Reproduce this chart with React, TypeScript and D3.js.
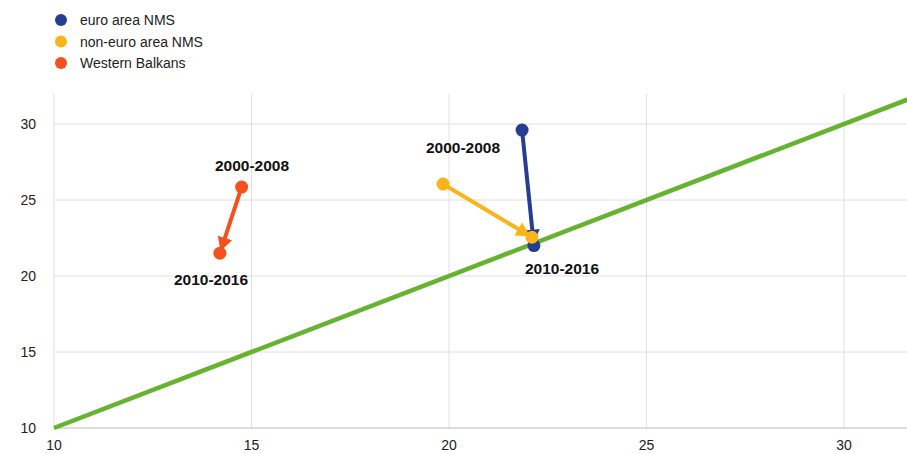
import React from 'react';
import * as d3 from 'd3';

const seriesNames = ['euro area NMS', 'non-euro area NMS', 'Western Balkans'];
const seriesColors = ['#263e91', '#fbb41a', '#f4511e'];
// [x, y] for 2000-2008 (start) and 2010-2016 (end)
const startPoints: [number, number][] = [[21.85, 29.6], [19.85, 26.05], [14.75, 25.85]];
const endPoints: [number, number][] = [[22.15, 22.0], [22.1, 22.55], [14.2, 21.5]];
const xTicks = [10, 15, 20, 25, 30];
const yTicks = [10, 15, 20, 25, 30];
const diagonal: [number, number][] = [[10, 10], [32, 32]];

const width = 907;
const height = 454;
const font = 'Arial, "Liberation Sans", sans-serif';

const App: React.FC = () => {
  const x = d3.scaleLinear().domain([10, 32]).range([54, 923]);
  const y = d3.scaleLinear().domain([10, 32]).range([428, 93.6]);
  const line = d3.line<[number, number]>().x(d => x(d[0])).y(d => y(d[1]));

  const arrow = (i: number) => {
    const [x0, y0] = [x(startPoints[i][0]), y(startPoints[i][1])];
    const [x1, y1] = [x(endPoints[i][0]), y(endPoints[i][1])];
    const len = Math.hypot(x1 - x0, y1 - y0);
    const ux = (x1 - x0) / len;
    const uy = (y1 - y0) / len;
    const tipX = x1 - ux * 2;
    const tipY = y1 - uy * 2;
    const hl = 14;
    const hw = 7.5;
    const bx = tipX - ux * hl;
    const by = tipY - uy * hl;
    const tri = `M${tipX},${tipY}L${bx - uy * hw},${by + ux * hw}L${bx + uy * hw},${by - ux * hw}Z`;
    return (
      <g key={i}>
        <line x1={x0} y1={y0} x2={bx + ux * 2} y2={by + uy * 2} stroke={seriesColors[i]} strokeWidth={4} />
        <path d={tri} fill={seriesColors[i]} />
        <circle cx={x0} cy={y0} r={6.5} fill={seriesColors[i]} />
        <circle cx={x1} cy={y1} r={6.5} fill={seriesColors[i]} />
      </g>
    );
  };

  return (
    <svg width={width} height={height} style={{ position: 'absolute', left: 0, top: 0 }} fontFamily={font}>
      <rect width={width} height={height} fill="#fff" />
      {/* grid */}
      {xTicks.map(t => (
        <line key={'gx' + t} x1={x(t)} x2={x(t)} y1={y(32)} y2={y(10)} stroke="#e0e0e0" strokeWidth={1} />
      ))}
      {yTicks.map(t => (
        <line key={'gy' + t} x1={x(10)} x2={width} y1={y(t)} y2={y(t)} stroke={t === 10 ? '#d0d0d0' : '#e0e0e0'} strokeWidth={t === 10 ? 1.5 : 1} />
      ))}
      {xTicks.map(t => (
        <text key={'tx' + t} x={x(t)} y={450} textAnchor="middle" fontSize={14} fill="#222">{t}</text>
      ))}
      {yTicks.map(t => (
        <text key={'ty' + t} x={36} y={y(t) + 5} textAnchor="end" fontSize={14} fill="#222">{t}</text>
      ))}
      <path d={line(diagonal) || ''} stroke="#65b32e" strokeWidth={4.5} fill="none" />
      {seriesNames.map((_, i) => arrow(i))}
      <g fontSize={15.5} fontWeight="bold" fill="#111">
        <text x={252} y={171} textAnchor="middle">2000-2008</text>
        <text x={211} y={285} textAnchor="middle">2010-2016</text>
        <text x={463} y={153} textAnchor="middle">2000-2008</text>
        <text x={562} y={274} textAnchor="middle">2010-2016</text>
      </g>
      {seriesNames.map((n, i) => (
        <g key={n} transform={`translate(0,${20 + i * 21.5})`}>
          <circle cx={61} cy={0} r={6} fill={seriesColors[i]} />
          <text x={80} y={5} fontSize={14} fill="#222">{n}</text>
        </g>
      ))}
    </svg>
  );
};

export default App;
